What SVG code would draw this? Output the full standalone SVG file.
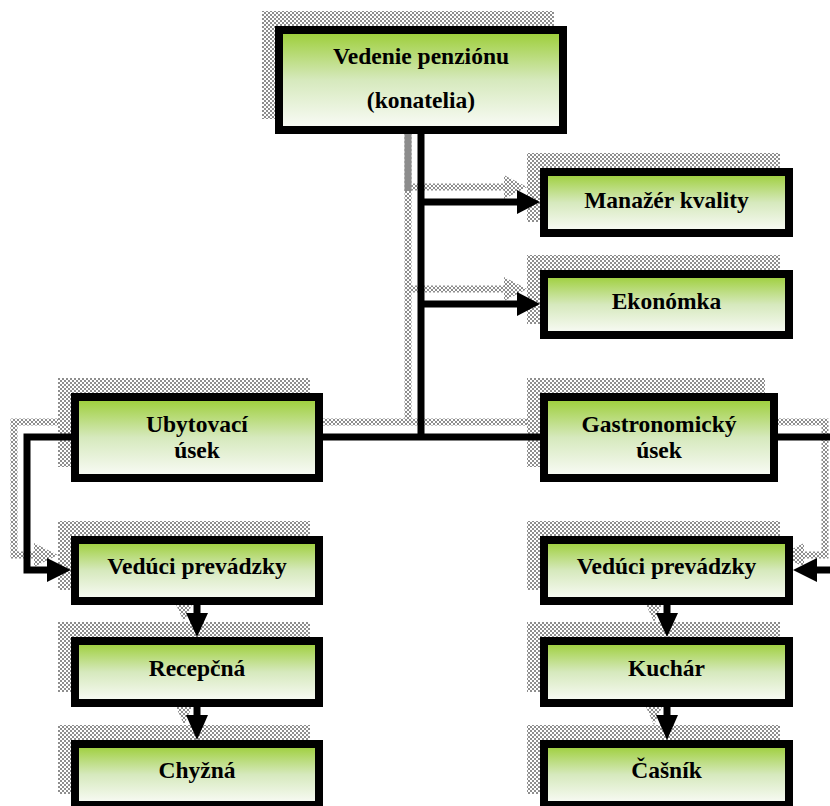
<svg xmlns="http://www.w3.org/2000/svg" xmlns:xlink="http://www.w3.org/1999/xlink" width="830" height="806" viewBox="0 0 830 806">
  <defs>
    <linearGradient id="fillGreen" x1="0" y1="0" x2="0" y2="1">
      <stop offset="0" stop-color="#9acd32"/>
      <stop offset="0.5" stop-color="#d6e9bd"/>
      <stop offset="1" stop-color="#fbfcf9"/>
    </linearGradient>
    <pattern id="chk" width="4" height="4" patternUnits="userSpaceOnUse">
      <rect width="4" height="4" fill="#ffffff"/>
      <rect width="2" height="2" fill="#8e8e8e"/>
      <rect x="2" y="2" width="2" height="2" fill="#8e8e8e"/>
    </pattern>
    <style>
      .box { fill: url(#fillGreen); stroke: #000; stroke-width: 8; }
      .sh { fill: url(#chk); }
      .t { font-family: "Liberation Serif", "Times New Roman", serif; font-weight: bold; font-size: 23.5px; text-anchor: middle; fill: #000; }
      .w { fill: none; stroke-width: 7; }
      .hd { stroke: none; }
    </style>
  </defs>

  <rect width="830" height="806" fill="#ffffff"/>

  <!-- drop shadows of the boxes -->
  <g id="box-shadows">
    <rect class="sh" x="262" y="11" width="292" height="108"/>
    <rect class="sh" x="527" y="153" width="253" height="69"/>
    <rect class="sh" x="527" y="255" width="253" height="69"/>
    <rect class="sh" x="58" y="378" width="252" height="89"/>
    <rect class="sh" x="527" y="378" width="238" height="89"/>
    <rect class="sh" x="58" y="521" width="252" height="69"/>
    <rect class="sh" x="58" y="622" width="252" height="70"/>
    <rect class="sh" x="58" y="725" width="252" height="69"/>
    <rect class="sh" x="527" y="521" width="253" height="69"/>
    <rect class="sh" x="527" y="622" width="253" height="70"/>
    <rect class="sh" x="527" y="725" width="253" height="69"/>
  </g>

  <!-- drop shadow of the connectors -->
  <use xlink:href="#connectors" href="#connectors" transform="translate(-13,-15)" stroke="url(#chk)" fill="url(#chk)"/>
  <rect x="404.5" y="119" width="7" height="72" fill="#8c8c8c"/>

  <g stroke="#000" fill="#000">
    <g id="connectors">
      <!-- trunk and main bus -->
      <path class="w" d="M421,134 V437"/>
      <path class="w" d="M323,437 H540"/>
      <!-- staff branches -->
      <path class="w" d="M421,202 H520"/>
      <polygon class="hd" points="517,190 540,202 517,214"/>
      <path class="w" d="M421,304 H520"/>
      <polygon class="hd" points="517,292 540,304 517,316"/>
      <!-- left loop -->
      <path class="w" d="M71,437 H27 V570 H50"/>
      <polygon class="hd" points="47,558 71,570 47,582"/>
      <!-- right loop -->
      <path class="w" d="M778,437 H838 V570 H814"/>
      <polygon class="hd" points="817,558 793,570 817,582"/>
      <!-- left column -->
      <path class="w" d="M197,605 V616"/>
      <polygon class="hd" points="186,613 197,637 208,613"/>
      <path class="w" d="M197,707 V718"/>
      <polygon class="hd" points="186,715 197,740 208,715"/>
      <!-- right column -->
      <path class="w" d="M667,605 V616"/>
      <polygon class="hd" points="656,613 667,637 678,613"/>
      <path class="w" d="M667,707 V718"/>
      <polygon class="hd" points="656,715 667,740 678,715"/>
    </g>
  </g>

  <g id="vedenie">
    <rect class="box" x="279" y="30" width="284" height="100"/>
    <text class="t" x="421" y="64">Vedenie penziónu</text>
    <text class="t" x="421" y="108">(konatelia)</text>
  </g>
  <g id="manazer">
    <rect class="box" x="544" y="172" width="245" height="61"/>
    <text class="t" x="666.5" y="208">Manažér kvality</text>
  </g>
  <g id="ekonomka">
    <rect class="box" x="544" y="274" width="245" height="61"/>
    <text class="t" x="666.5" y="309">Ekonómka</text>
  </g>
  <g id="ubytovaci">
    <rect class="box" x="75" y="397" width="244" height="81"/>
    <text class="t" x="197" y="432">Ubytovací</text>
    <text class="t" x="197" y="458">úsek</text>
  </g>
  <g id="gastronomicky">
    <rect class="box" x="544" y="397" width="230" height="81"/>
    <text class="t" x="659" y="432">Gastronomický</text>
    <text class="t" x="659" y="458">úsek</text>
  </g>
  <g id="veduci-l">
    <rect class="box" x="75" y="540" width="244" height="61"/>
    <text class="t" x="197" y="574">Vedúci prevádzky</text>
  </g>
  <g id="recepcna">
    <rect class="box" x="75" y="641" width="244" height="62"/>
    <text class="t" x="197" y="676">Recepčná</text>
  </g>
  <g id="chyzna">
    <rect class="box" x="75" y="744" width="244" height="61"/>
    <text class="t" x="197" y="778">Chyžná</text>
  </g>
  <g id="veduci-r">
    <rect class="box" x="544" y="540" width="245" height="61"/>
    <text class="t" x="666.5" y="574">Vedúci prevádzky</text>
  </g>
  <g id="kuchar">
    <rect class="box" x="544" y="641" width="245" height="62"/>
    <text class="t" x="666.5" y="676">Kuchár</text>
  </g>
  <g id="casnik">
    <rect class="box" x="544" y="744" width="245" height="61"/>
    <text class="t" x="666.5" y="778">Čašník</text>
  </g>
</svg>
